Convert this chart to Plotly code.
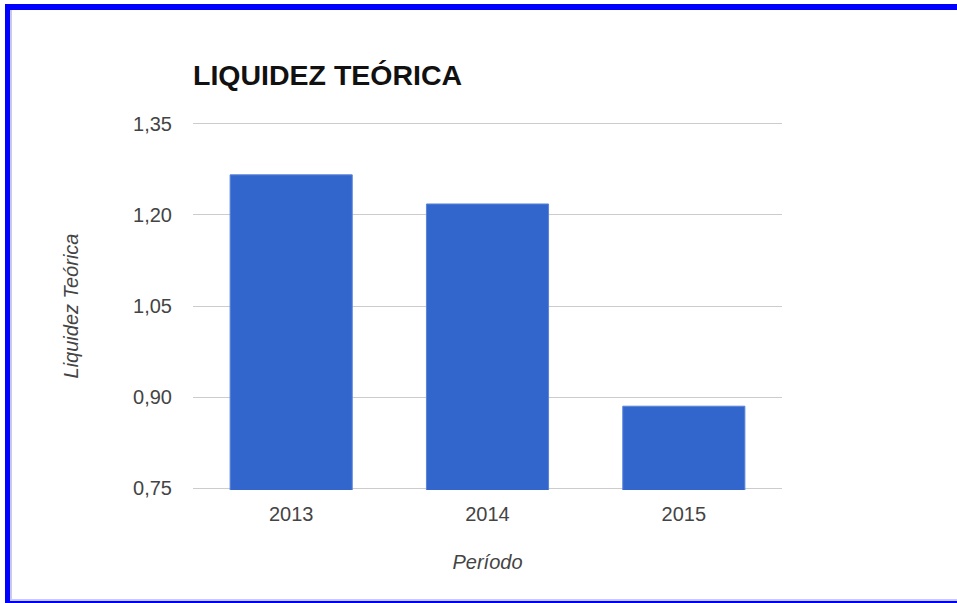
import plotly.graph_objects as go

# data
periods = ["2013", "2014", "2015"]
liquidity = [1.266, 1.218, 0.885]
y_ticks = [0.75, 0.90, 1.05, 1.20, 1.35]

W, H = 957, 603
L, R, T, B = 193, 175, 122, 113
PW, PH = W - L - R, H - T - B


def px_x(x):
    return (x - L) / PW


def px_y(y):
    return (H - B - y) / PH


fig = go.Figure()
fig.add_trace(go.Bar(
    x=periods, y=liquidity,
    marker=dict(color="#3366cc", line=dict(width=1, color="#5b84d8")),
    hoverinfo="x+y",
))

# blue frame round the picture
frame = [
    (5, 4, W + 5, 10, "#0000ff"),
    (5, 4, 10, H + 5, "#0000ff"),
    (5, 601, W + 5, H + 5, "#0000ff"),
    (10, 599, W + 5, 601, "#c9c9f2"),
    (10, 10, 12, 601, "#c9c9f2"),
]
shapes = []
for x0, y0, x1, y1, col in frame:
    shapes.append(dict(
        type="rect", xref="paper", yref="paper",
        x0=px_x(x0), x1=px_x(x1), y0=px_y(y1), y1=px_y(y0),
        fillcolor=col, line=dict(width=0), layer="above",
    ))

fig.update_layout(
    width=W, height=H,
    margin=dict(l=L, r=R, t=T, b=B, pad=0),
    paper_bgcolor="white", plot_bgcolor="white",
    separators=",.",
    bargap=0.378,
    showlegend=False,
    font=dict(family="Arial, Liberation Sans, sans-serif", size=20, color="#444"),
    title=dict(
        text="<b>LIQUIDEZ TEÓRICA</b>",
        x=0, xref="paper", xanchor="left",
        y=1 - 75 / H, yref="container", yanchor="middle",
        font=dict(size=28.5, color="#111"),
    ),
    xaxis=dict(
        title=dict(text="<i>Período</i>", standoff=30, font=dict(size=20, color="#444")),
        showgrid=False, zeroline=False, showline=False,
        ticks="", ticklabelstandoff=10,
    ),
    yaxis=dict(
        title=dict(text="<i>Liquidez Teórica</i>", standoff=49, font=dict(size=20, color="#444")),
        range=[0.747, 1.353],
        tickvals=y_ticks, tickformat=".2f",
        showgrid=True, gridcolor="#cccccc", gridwidth=1,
        zeroline=False, showline=False,
        ticks="", ticklabelstandoff=20,
    ),
    shapes=shapes,
)

# drop the page's default body margin so the figure sits at the window corner
fig.write_html(
    "out.html",
    config={"displayModeBar": False},
    post_script="document.body.style.margin='0';",
)
